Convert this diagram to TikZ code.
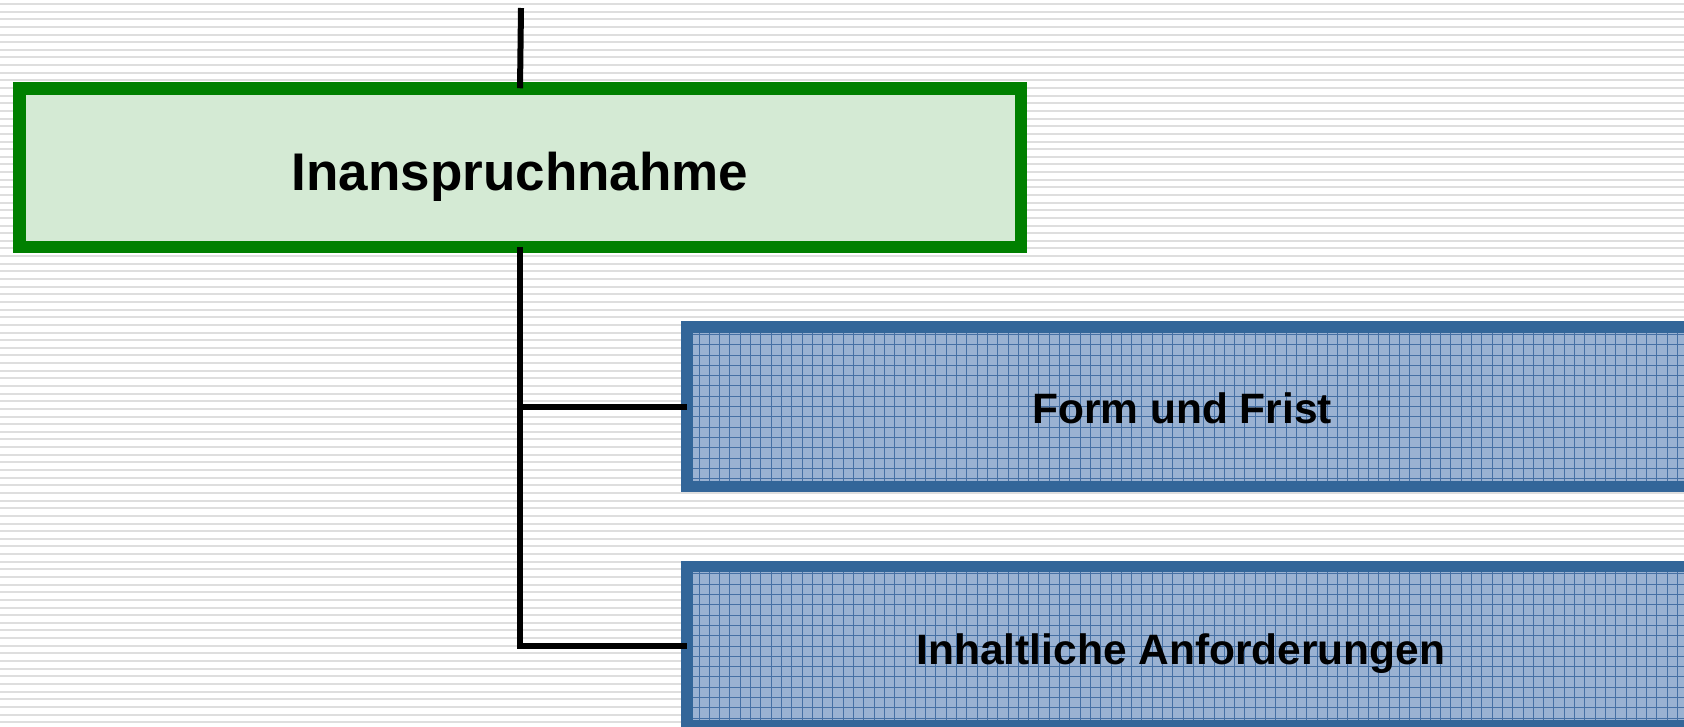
\documentclass[tikz,border=0pt]{standalone}
\usepackage{fontspec}
\setmainfont{Liberation Sans}
\definecolor{stripegray}{RGB}{222,222,222}
\definecolor{gborder}{RGB}{0,128,0}
\definecolor{gfill}{RGB}{212,234,212}
\definecolor{bborder}{RGB}{51,102,153}
\definecolor{bfill}{RGB}{154,178,210}
\definecolor{bgrid}{RGB}{70,112,164}
\tikzset{
  greenbox/.style={draw=gborder, fill=gfill, line width=12.5pt, rectangle,
    inner sep=0pt, outer sep=0pt, minimum width=1001.5pt, minimum height=158.5pt},
  bluebox/.style={draw=bborder, fill=bfill, line width=11.5pt, rectangle,
    inner sep=0pt, outer sep=0pt, minimum width=1013.25pt, minimum height=159.5pt,
    path picture={\draw[bgrid, line width=1pt, step=10.3pt]
      ([xshift=6pt,yshift=-6pt]path picture bounding box.north west) grid
      (path picture bounding box.south east);}},
  conn/.style={draw=black, line width=6pt},
  bigtext/.style={font=\bfseries\fontsize{53}{60}\selectfont, inner sep=0pt, anchor=base},
  midtext/.style={font=\bfseries\fontsize{42.5}{50}\selectfont, inner sep=0pt, anchor=base}
}
\begin{document}
\begin{tikzpicture}[x=1pt,y=-1pt]
\useasboundingbox (0,0) rectangle (1684,726);
\fill[white] (0,0) rectangle (1684,726);
\foreach \i in {0,...,94}{
  \draw[stripegray, line width=2pt] (0,{4+7.64*\i}) -- (1684,{4+7.64*\i});
}
\node[greenbox] (g) at (520,167.5) {};
\node[bluebox] (b1) at (1193.4,406.5) {};
\node[bluebox] (b2) at (1193.4,646) {};
\node[bigtext] (tg) at (520,190) {Inanspruchnahme};
\node[midtext] (t1) at (1182,423) {Form und Frist};
\node[midtext] (t2) at (1181,664) {Inhaltliche Anforderungen};
\coordinate (top) at (521,8);
\draw[conn] (top) -- (g.north);
\draw[conn, line join=miter] (g.south) |- (b2.west);
\draw[conn] (g.south |- b1.west) -- (b1.west);
\end{tikzpicture}
\end{document}
